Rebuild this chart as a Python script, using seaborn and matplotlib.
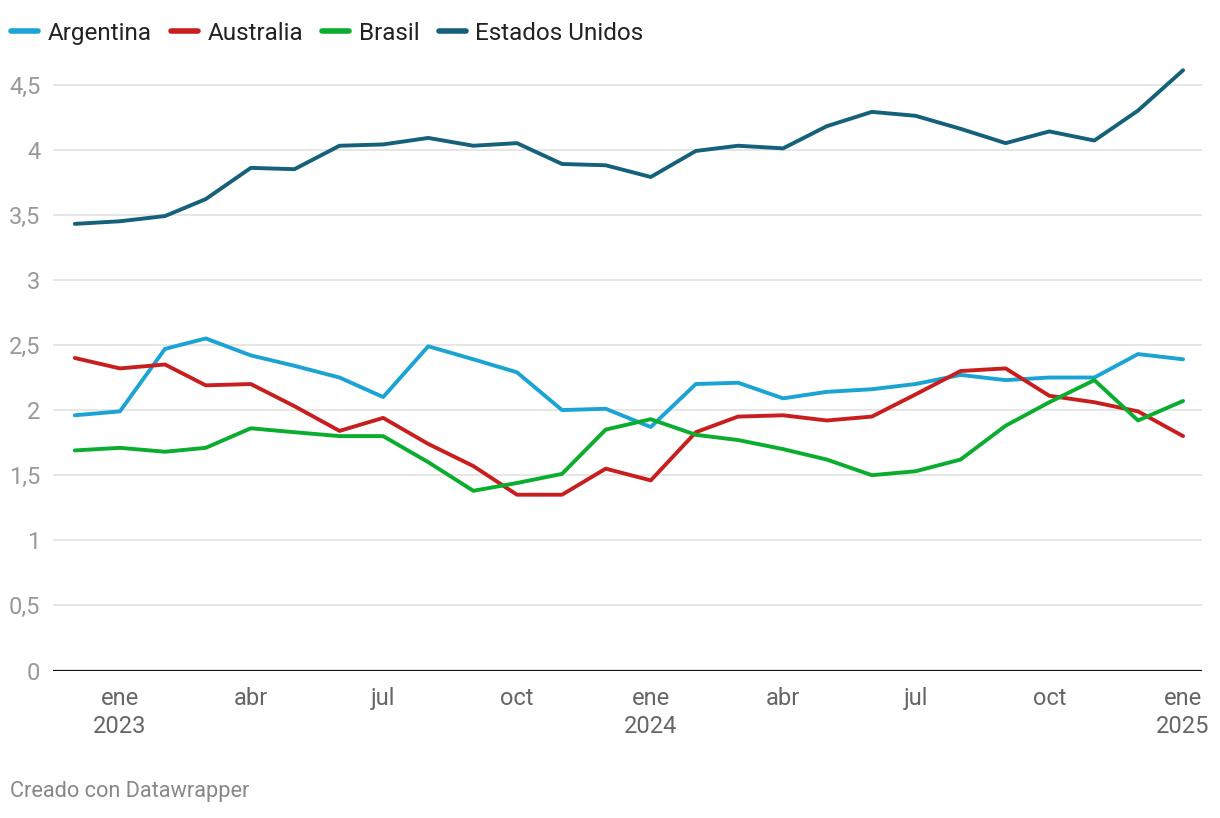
import seaborn as sns
import matplotlib.pyplot as plt
import matplotlib.ticker as mticker
import pandas as pd

# monthly values, dic 2022 -> ene 2025
months = pd.date_range("2022-12-01", "2025-01-01", freq="MS")

argentina = [1.96, 1.99, 2.47, 2.55, 2.42, 2.34, 2.25, 2.10, 2.49, 2.39, 2.29, 2.00, 2.01,
             1.87, 2.20, 2.21, 2.09, 2.14, 2.16, 2.20, 2.27, 2.23, 2.25, 2.25, 2.43, 2.39]
australia = [2.40, 2.32, 2.35, 2.19, 2.20, 2.03, 1.84, 1.94, 1.74, 1.57, 1.35, 1.35, 1.55,
             1.46, 1.83, 1.95, 1.96, 1.92, 1.95, 2.12, 2.30, 2.32, 2.11, 2.06, 1.99, 1.80]
brasil = [1.69, 1.71, 1.68, 1.71, 1.86, 1.83, 1.80, 1.80, 1.60, 1.38, 1.44, 1.51, 1.85,
          1.93, 1.81, 1.77, 1.70, 1.62, 1.50, 1.53, 1.62, 1.88, 2.06, 2.23, 1.92, 2.07]
estados_unidos = [3.43, 3.45, 3.49, 3.62, 3.86, 3.85, 4.03, 4.04, 4.09, 4.03, 4.05, 3.89, 3.88,
                  3.79, 3.99, 4.03, 4.01, 4.18, 4.29, 4.26, 4.16, 4.05, 4.14, 4.07, 4.30, 4.61]

series_names = ["Argentina", "Australia", "Brasil", "Estados Unidos"]
colors = ["#1ba3d3", "#c81f1e", "#0aad2d", "#15607a"]

tick_dates = pd.to_datetime(["2023-01-01", "2023-04-01", "2023-07-01", "2023-10-01",
                             "2024-01-01", "2024-04-01", "2024-07-01", "2024-10-01",
                             "2025-01-01"])
tick_labels = ["ene\n2023", "abr", "jul", "oct", "ene\n2024", "abr", "jul", "oct", "ene\n2025"]
y_ticks = [0, 0.5, 1, 1.5, 2, 2.5, 3, 3.5, 4, 4.5]

# long format for seaborn
frames = []
for name, vals in zip(series_names, [argentina, australia, brasil, estados_unidos]):
    frames.append(pd.DataFrame({"fecha": months, "valor": vals, "serie": name}))
df = pd.concat(frames, ignore_index=True)

sns.set_theme(style="white")
plt.rcParams['font.family'] = ['Roboto', 'DejaVu Sans']

fig = plt.figure(figsize=(12.2, 8.18), dpi=100)
ax = fig.add_axes([53 / 1220, (818 - 670.5) / 818, (1202 - 53) / 1220, 612 / 818])

sns.lineplot(data=df, x="fecha", y="valor", hue="serie", palette=colors,
             hue_order=series_names, linewidth=2.8, ax=ax)

# x range: a bit of room either side of the data
ax.set_xlim(months[0] - pd.Timedelta(days=15), months[-1] + pd.Timedelta(days=13))
ax.set_ylim(0, 4.7)

ax.set_xticks(tick_dates)
ax.set_xticklabels(tick_labels, linespacing=1.25)
ax.set_yticks(y_ticks)
ax.yaxis.set_major_formatter(mticker.FuncFormatter(lambda v, p: f"{v:g}".replace(".", ",")))

ax.tick_params(axis="x", length=0, pad=12, labelsize=17, labelcolor="#666666")
ax.tick_params(axis="y", length=0, pad=9, labelsize=17, labelcolor="#999999")

ax.set_xlabel("")
ax.set_ylabel("")
ax.yaxis.grid(True, color="#e2e2e2", linewidth=1.2)
ax.xaxis.grid(False)
ax.set_axisbelow(True)
for s in ax.spines.values():
    s.set_visible(False)
ax.axhline(0, color="#111111", linewidth=1.6, zorder=1)

# legend on top, left
handles, labels = ax.get_legend_handles_labels()
ax.get_legend().remove()
for h in handles:
    h.set_linewidth(4)
    h.set_solid_capstyle("round")
fig.legend(handles, labels, loc="upper left", bbox_to_anchor=(0.0, 0.987), ncol=4,
           frameon=False, fontsize=17.5, handlelength=1.1, handletextpad=0.4,
           columnspacing=0.8, borderpad=0.2, borderaxespad=0.25, labelcolor="#222222")

fig.text(10 / 1220, 1 - 792 / 818, "Creado con Datawrapper", fontsize=15.7,
         color="#888888", va="center", ha="left")

fig.savefig("out.png", dpi=100)
